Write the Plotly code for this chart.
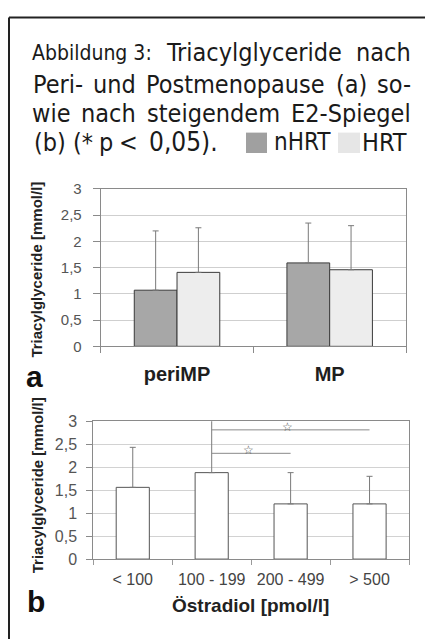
import plotly.graph_objects as go

# ---------------- data ----------------
groups_a = ["periMP", "MP"]
nhrt_mean = [1.07, 1.59]
nhrt_sd = [1.13, 0.76]
hrt_mean = [1.41, 1.46]
hrt_sd = [0.85, 0.84]

e2_groups = ["< 100", "100 - 199", "200 - 499", "> 500"]
e2_mean = [1.56, 1.88, 1.20, 1.20]
e2_sd = [0.87, 1.30, 0.68, 0.60]
sig_pairs = [("100 - 199", "> 500", 2.81), ("100 - 199", "200 - 499", 2.30)]

yticks = [0, 0.5, 1, 1.5, 2, 2.5, 3]

# page body has an 8px margin -> figure is placed at (8, 8)
PAGE_W, PAGE_H = 433, 639
OFF = 8
W, H = PAGE_W - OFF, PAGE_H - OFF


def px(x):
    return (x - OFF) / W


def py(y):
    return 1 - (y - OFF) / H


CHART_FONT = "Liberation Sans, Arial, sans-serif"
TITLE_FONT = "DejaVu Sans Condensed, DejaVu Sans, sans-serif"

# DejaVu Sans advance widths (em) ; condensed face ~0.9 of these
DJV = {" ": .318, "(": .390, ")": .390, "*": .500, ",": .318, "-": .361, ".": .318,
       ":": .337, "<": .838, "A": .684, "E": .632, "H": .752, "P": .603, "R": .695,
       "S": .635, "T": .611, "a": .613, "b": .635, "c": .550, "d": .635, "e": .615,
       "g": .635, "h": .634, "i": .278, "l": .278, "m": .974, "n": .634, "o": .612,
       "p": .635, "r": .411, "s": .521, "t": .392, "u": .634, "w": .818, "y": .592}


def text_width(s, size):
    return sum(DJV.get(c, .636) for c in s) * 0.9 * size


fig = go.Figure()

# ---------------- chart a ----------------
fig.add_trace(go.Bar(
    x=groups_a, y=nhrt_mean, name="nHRT", width=0.28, offset=-0.28,
    marker=dict(color="#a7a7a7", line=dict(color="#3a3a3a", width=1)),
    error_y=dict(type="data", array=nhrt_sd, arrayminus=[0] * len(nhrt_sd),
                 symmetric=False, color="#7a7a7a", thickness=1, width=3),
    xaxis="x", yaxis="y", showlegend=False, hoverinfo="skip"))
fig.add_trace(go.Bar(
    x=groups_a, y=hrt_mean, name="HRT", width=0.28, offset=0.0,
    marker=dict(color="#ededed", line=dict(color="#3a3a3a", width=1)),
    error_y=dict(type="data", array=hrt_sd, arrayminus=[0] * len(hrt_sd),
                 symmetric=False, color="#7a7a7a", thickness=1, width=3),
    xaxis="x", yaxis="y", showlegend=False, hoverinfo="skip"))

# ---------------- chart b ----------------
fig.add_trace(go.Bar(
    x=e2_groups, y=e2_mean, width=0.42, offset=-0.21,
    marker=dict(color="white", line=dict(color="#555555", width=1)),
    error_y=dict(type="data", array=e2_sd, arrayminus=[0] * len(e2_sd),
                 symmetric=False, color="#7a7a7a", thickness=1, width=3),
    xaxis="x2", yaxis="y2", showlegend=False, hoverinfo="skip"))

annotations = []
for a, b, lvl in sig_pairs:
    fig.add_trace(go.Scatter(
        x=[a, b], y=[lvl, lvl], mode="lines",
        line=dict(color="#8a8a8a", width=1),
        xaxis="x2", yaxis="y2", showlegend=False, hoverinfo="skip"))
    mid = (e2_groups.index(a) + e2_groups.index(b)) / 2
    annotations.append(dict(
        x=mid, y=lvl, xref="x2", yref="y2", text="☆", showarrow=False,
        yanchor="middle", yshift=3, xshift=-3,
        font=dict(size=12, color="#555555", family="DejaVu Sans")))

axis_common = dict(showline=True, linecolor="#8a8a8a", linewidth=1, mirror=True)

# ---------------- caption (justified) ----------------
LEFT, RIGHT = 32, 411


def add_word(text, x, y, size, anchor="center"):
    annotations.append(dict(
        x=px(x), y=py(y), xref="paper", yref="paper", text=text, showarrow=False,
        xanchor=anchor, yanchor="middle",
        font=dict(family=TITLE_FONT, size=size, color="#1a1a1a")))


def justify(words, y, sizes):
    widths = [text_width(w, s) for w, s in zip(words, sizes)]
    gap = (RIGHT - LEFT - sum(widths)) / (len(words) - 1)
    x = LEFT
    for w, s, wd in zip(words, sizes, widths):
        add_word(w, x + wd / 2, y, s)
        x += wd + gap


FS = 25
justify(["Abbildung 3:", "Triacylglyceride", "nach"], 45, [21, FS, FS])
justify(["Peri-", "und", "Postmenopause", "(a)", "so-"], 77, [FS] * 5)
justify(["wie", "nach", "steigendem", "E2-Spiegel"], 107, [FS] * 4)

# last caption line with the legend swatches
add_word("(b)", 32, 137, FS, "left")
add_word("(*", 71, 137, FS, "left")
add_word("p", 97, 137, FS, "left")
add_word("&lt;", 128, 137, FS)
add_word("0,05).", 147, 137, FS + 1, "left")
add_word("nHRT", 272, 137, FS - 1, "left")
add_word("HRT", 409, 137, FS, "right")

# panel letters
annotations.append(dict(x=px(34), y=py(378), xref="paper", yref="paper", text="a",
                        showarrow=False, xanchor="center", yanchor="middle",
                        font=dict(family=CHART_FONT, size=30, color="#111", weight="bold")))
annotations.append(dict(x=px(36), y=py(610), xref="paper", yref="paper", text="b",
                        showarrow=False, xanchor="center", yanchor="middle",
                        font=dict(family=CHART_FONT, size=30, color="#111", weight="bold")))

# axis titles
for yc in (268, 490):
    annotations.append(dict(x=px(37), y=py(yc), xref="paper", yref="paper",
                            text="Triacylglyceride [mmol/l]", textangle=-90,
                            showarrow=False, xanchor="center", yanchor="middle",
                            font=dict(family=CHART_FONT, size=15, color="#222", weight="bold")))
annotations.append(dict(x=px(250), y=py(614), xref="paper", yref="paper",
                        text="Östradiol [pmol/l]", showarrow=False,
                        xanchor="center", yanchor="middle",
                        font=dict(family=CHART_FONT, size=19, color="#222", weight="bold")))

shapes = [
    # outer frame (top & left)
    dict(type="line", xref="paper", yref="paper", x0=px(9), x1=1.05, y0=py(8.5), y1=py(8.5),
         line=dict(color="#222", width=2)),
    dict(type="line", xref="paper", yref="paper", x0=px(9), x1=px(9), y0=py(8.5), y1=-0.05,
         line=dict(color="#222", width=2)),
    # legend squares in caption
    dict(type="rect", xref="paper", yref="paper", x0=px(246), x1=px(267), y0=py(148), y1=py(127),
         fillcolor="#a0a0a0", line=dict(width=0)),
    dict(type="rect", xref="paper", yref="paper", x0=px(338), x1=px(360), y0=py(148), y1=py(127),
         fillcolor="#e6e6e6", line=dict(width=0)),
]

fig.update_layout(
    width=W, height=H,
    margin=dict(l=0, r=0, t=0, b=0),
    paper_bgcolor="white", plot_bgcolor="white",
    separators=",.",
    barmode="overlay",
    showlegend=False,
    font=dict(family=CHART_FONT),
    xaxis=dict(domain=[px(100.7), px(406)], anchor="y", type="category",
               ticks="outside", tickson="boundaries", ticklen=6, tickcolor="#8a8a8a",
               tickfont=dict(size=20, color="#1e1e1e", weight="bold"),
               ticklabelstandoff=10, showgrid=False, **axis_common),
    yaxis=dict(domain=[py(347), py(185)], anchor="x", range=[0, 3], tickvals=yticks,
               ticks="outside", ticklen=7, tickcolor="#8a8a8a",
               tickfont=dict(size=15, color="#555"), ticklabelstandoff=8,
               showgrid=True, gridcolor="#cfcfcf", gridwidth=1, zeroline=False,
               **axis_common),
    xaxis2=dict(domain=[px(93.3), px(409)], anchor="y2", type="category",
                ticks="outside", tickson="boundaries", ticklen=5, tickcolor="#9a9a9a",
                tickfont=dict(size=16, color="#444"), ticklabelstandoff=6,
                showgrid=False, **axis_common),
    yaxis2=dict(domain=[py(566), py(424)], anchor="x2", range=[0, 3], tickvals=yticks,
                ticks="outside", ticklen=6, tickcolor="#8a8a8a",
                tickfont=dict(size=16, color="#555"), ticklabelstandoff=6,
                showgrid=True, gridcolor="#d2d2d2", gridwidth=1, zeroline=False,
                **axis_common),
    annotations=annotations,
    shapes=shapes,
)

fig.write_html("out.html")
